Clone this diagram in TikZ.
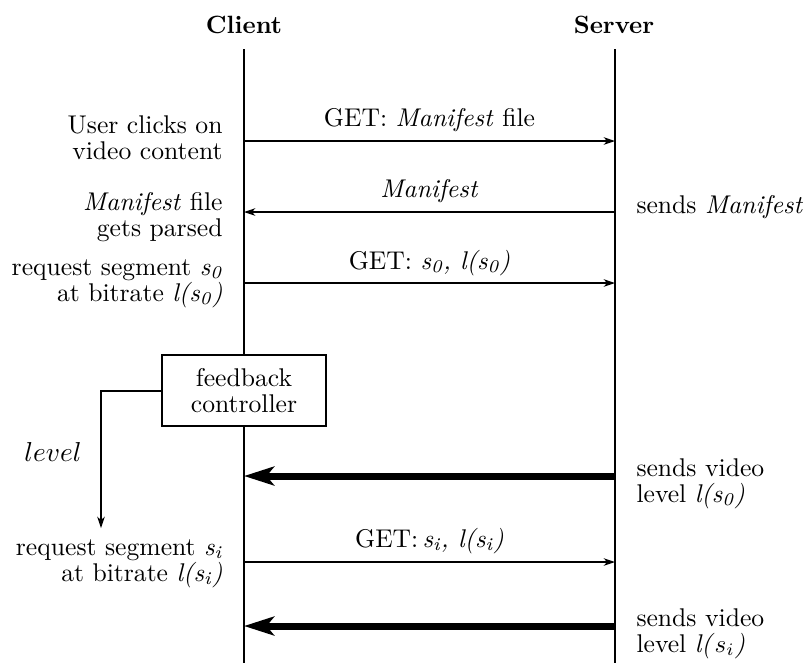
\documentclass[tikz,border=0pt]{standalone}
\usetikzlibrary{arrows.meta}
\begin{document}
\begin{tikzpicture}[x=0.4pt,y=-0.4pt,
  every node/.style={font=\fontsize{10.25}{10.4}\selectfont, inner sep=0pt},
  title/.style={anchor=base,font=\fontsize{10}{10.4}\selectfont\bfseries},
  lifeline/.style={line width=1.1pt},
  msg/.style={line width=0.45pt,-{Stealth[length=4.5pt,width=3pt,inset=1.3pt]}},
  bulk/.style={line width=2.8pt,-{Stealth[length=12pt,width=7.5pt,inset=3pt]}},
  leftnote/.style={align=right,anchor=base east},
  rightnote/.style={align=left,anchor=base west},
  msglabel/.style={anchor=base},
  ctrlbox/.style={draw,line width=0.5pt,fill=white,minimum width=65.6pt,
    minimum height=28.4pt,align=center},
  feedback/.style={line width=0.45pt,-{Stealth[length=4.5pt,width=3pt,inset=1.3pt]}}]
\useasboundingbox (0,0) rectangle (810,663);

% participants
\node[title] (client) at (244,33) {Client};
\node[title] (server) at (614,33) {Server};

\coordinate (ctop) at (244,49);
\coordinate (cbot) at (244,663);
\coordinate (stop) at (615,49);
\coordinate (sbot) at (615,663);
\draw[lifeline] (ctop) -- (cbot);
\draw[lifeline] (stop) -- (sbot);

% message anchors on the lifelines
\foreach \k/\y in {1/141,2/212,3/283,4/476,5/562,6/626}{
  \coordinate (c\k) at (244,\y);
  \coordinate (s\k) at (615,\y);
}

% messages
\draw[msg] (c1) -- (s1);
\node[msglabel] (m1) at (429.5,126) {GET: \textit{Manifest} file};
\draw[msg] (s2) -- (c2);
\node[msglabel] (m2) at (429.5,197) {\textit{Manifest}};
\draw[msg] (c3) -- (s3);
\node[msglabel] (m3) at (429.5,269) {GET: \textit{s\textsubscript{0}, l(s\textsubscript{0})}};
\draw[bulk] (s4) -- (c4);
\draw[msg] (c5) -- (s5);
\node[msglabel] (m5) at (429.5,547) {GET:\,\textit{s\textsubscript{i}, l(s\textsubscript{i})}};
\draw[bulk] (s6) -- (c6);

% client side notes (anchored on the baseline of their last line)
\node[leftnote] (n1) at (223,159) {User clicks on\\video content};
\node[leftnote] (n2) at (223,236) {\textit{Manifest} file\\gets parsed};
\node[leftnote] (n3) at (223,301) {request segment \textit{s\textsubscript{0}}\\at bitrate \textit{l(s\textsubscript{0})}};
\node[leftnote] (n5) at (223,581) {request segment \textit{s\textsubscript{i}}\\at bitrate \textit{l(s\textsubscript{i})}};

% server side notes
\node[rightnote] (r2) at (636,213) {sends \textit{Manifest}};
\node[rightnote] (r4) at (636,502) {sends video\\level \textit{l(s\textsubscript{0})}};
\node[rightnote] (r6) at (636,652) {sends video\\level \textit{l(}$s_i$\textit{)}};

% feedback controller
\node[ctrlbox] (ctrl) at (244,390.5) {feedback\\controller};
\coordinate (fbturn) at (101,391);
\coordinate (fbend) at (101,528);
\draw[feedback] (ctrl.west |- fbturn) -- (fbturn) -- (fbend);
\node[anchor=base west,font=\fontsize{11}{12}\selectfont] (lvl) at (24,461) {$level$};
\end{tikzpicture}
\end{document}
